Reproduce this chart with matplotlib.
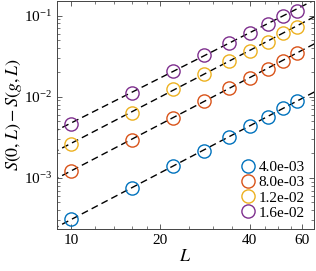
import numpy as np
import matplotlib
matplotlib.use("Agg")
import matplotlib.pyplot as plt
from matplotlib.ticker import FixedLocator, NullFormatter, LogLocator

plt.rcParams['font.family'] = ['Liberation Serif', 'DejaVu Serif']
plt.rcParams['mathtext.fontset'] = 'stix'

L = [10, 16, 22, 28, 34, 40, 46, 52, 58]
labels = ['4.0e-03', '8.0e-03', '1.2e-02', '1.6e-02']
colors = ['#0072BD', '#D95319', '#EDB120', '#7E2F8E']

dS_g1 = [3.1e-4, 7.5e-4, 1.41e-3, 2.15e-3, 3.2e-3, 4.4e-3, 5.7e-3, 7.3e-3, 8.9e-3]
dS_g2 = [1.22e-3, 2.94e-3, 5.5e-3, 8.9e-3, 0.0129, 0.0172, 0.0222, 0.0278, 0.0349]
dS_g3 = [2.63e-3, 6.3e-3, 0.01256, 0.0192, 0.0278, 0.037, 0.0478, 0.0617, 0.0731]
dS_g4 = [4.6e-3, 0.0112, 0.0210, 0.0330, 0.0464, 0.0617, 0.0797, 0.100, 0.115]
series = [dS_g1, dS_g2, dS_g3, dS_g4]

fig = plt.figure(figsize=(3.16, 2.71), dpi=100)
ax = fig.add_axes([0.180, 0.155, 0.814, 0.843])

# power-law fits, drawn across the whole axis
xfit = np.array([8.0, 70.0])
for ys in series:
    p = np.polyfit(np.log(L), np.log(ys), 1)
    ax.plot(xfit, np.exp(np.polyval(p, np.log(xfit))), '--', color='black',
            lw=1.0, dashes=(5, 3), zorder=1)

for ys, c, lab in zip(series, colors, labels):
    ax.plot(L, ys, 'o', mfc='none', mec=c, ms=9.5, mew=1.0, label=lab, zorder=2)

ax.set_xscale('log')
ax.set_yscale('log')
ax.set_xlim(8.95, 66)
ax.set_ylim(2.35e-4, 0.153)

ax.xaxis.set_major_locator(FixedLocator([10, 20, 40, 60]))
ax.xaxis.set_minor_locator(FixedLocator([12, 14, 16, 18, 25, 30, 35, 45, 50, 55]))
ax.xaxis.set_minor_formatter(NullFormatter())
ax.set_xticklabels(['10', '20', '40', '60'])
ax.yaxis.set_major_locator(LogLocator(base=10))
ax.yaxis.set_minor_locator(LogLocator(base=10, subs=np.arange(2, 10)))
ax.yaxis.set_minor_formatter(NullFormatter())

ax.tick_params(which='both', direction='in', top=True, right=True,
               labelsize=11, color='#444444')
ax.tick_params(which='major', length=3.5, width=0.6)
ax.tick_params(which='minor', length=2, width=0.5)
for s in ax.spines.values():
    s.set_linewidth(0.7)
    s.set_color('#444444')

ax.set_xlabel('$L$', fontsize=13, labelpad=1)
ax.set_ylabel('$S(0,L) - S(g,L)$', fontsize=13, labelpad=0)

ax.legend(loc='lower right', frameon=False, fontsize=11, handletextpad=0.1,
          borderaxespad=0.2, labelspacing=0.1, handlelength=1.2)

fig.savefig('out.png', dpi=100)
